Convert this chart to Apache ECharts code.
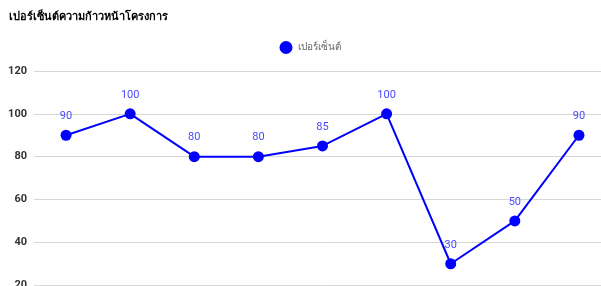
<!DOCTYPE html>
<html>
<head>
<meta charset="utf-8">
<script src="https://cdn.jsdelivr.net/npm/echarts@6/dist/echarts.min.js"></script>
<style>
  html, body { margin: 0; padding: 0; overflow: hidden; background: #fff; }
  #chart { width: 620px; height: 400px; }
</style>
</head>
<body>
<div id="chart"></div>
<script>
var categories = ['1', '2', '3', '4', '5', '6', '7', '8', '9'];
var percentValues = [90, 100, 80, 80, 85, 100, 30, 50, 90];
var yTicks = [0, 20, 40, 60, 80, 100, 120];

var chartDom = document.getElementById('chart');
var myChart = echarts.init(chartDom);
var option;

option = {
    textStyle: {
        fontFamily: 'Roboto, "Noto Sans", sans-serif'
    },
    title: {
        text: 'เปอร์เซ็นต์ความก้าวหน้าโครงการ',
        left: 4,
        top: 7,
        textStyle: {
            fontSize: 11,
            fontWeight: 'bold',
            color: '#000'
        }
    },
    legend: {
        top: 36,
        left: 'center',
        icon: 'circle',
        itemWidth: 13,
        itemHeight: 13,
        itemGap: 6,
        textStyle: {
            color: '#666',
            fontSize: 10
        },
        data: ['เปอร์เซ็นต์']
    },
    grid: {
        left: 34,
        right: 9,
        top: 71,
        bottom: 72,
        containLabel: false
    },
    xAxis: {
        type: 'category',
        boundaryGap: true,
        data: categories,
        axisLine: { show: false },
        axisTick: { show: false },
        axisLabel: { show: false }
    },
    yAxis: {
        type: 'value',
        min: yTicks[0],
        max: yTicks[yTicks.length - 1],
        interval: 20,
        axisLabel: {
            color: '#333',
            fontSize: 11,
            fontWeight: 'bold',
            margin: 7
        },
        splitLine: {
            lineStyle: {
                color: '#d6d6d6',
                width: 1
            }
        }
    },
    series: [{
        name: 'เปอร์เซ็นต์',
        type: 'line',
        data: percentValues,
        symbol: 'circle',
        symbolSize: 11,
        itemStyle: { color: '#0000ff' },
        lineStyle: { color: '#0000ff', width: 2 },
        label: {
            show: true,
            position: 'top',
            distance: 8,
            color: '#4a4aff',
            fontSize: 11
        }
    }]
};

option && myChart.setOption(option);
</script>
</body>
</html>
